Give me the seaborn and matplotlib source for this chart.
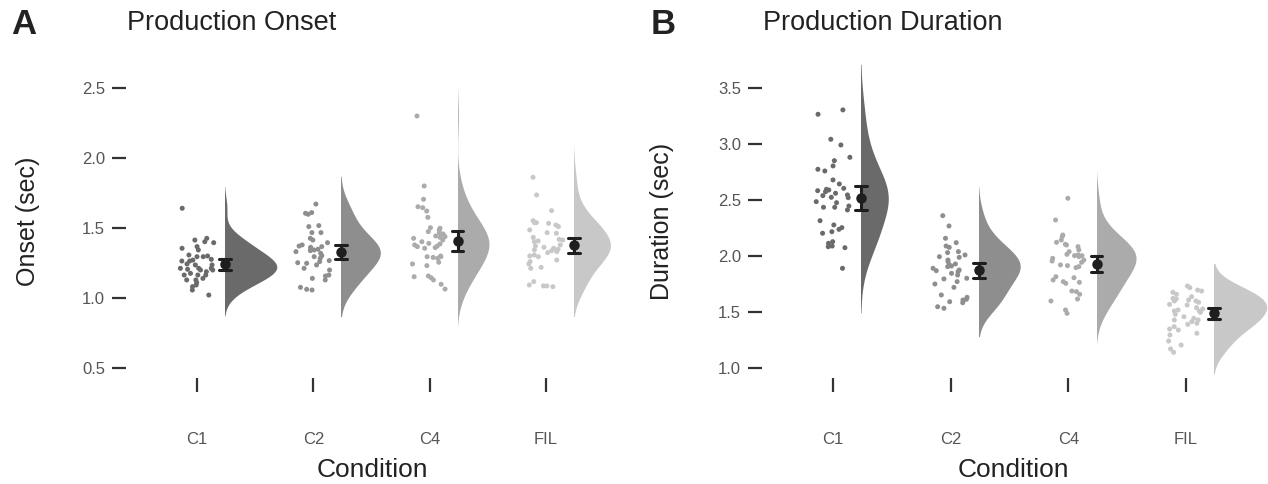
import numpy as np
import pandas as pd
import matplotlib
matplotlib.use('Agg')
import matplotlib.pyplot as plt
from matplotlib.patches import Rectangle
import seaborn as sns

# ── Data (in seconds) ─────────────────────────────────────────
conditions = ['C1', 'C2', 'C4', 'FIL']
shades = ['#6a6a6b', '#8e8e8e', '#ababab', '#c8c8c8']

onset_c1 = [1.641, 1.426, 1.414, 1.402, 1.395, 1.343, 1.367, 1.355, 1.307, 1.295,
            1.295, 1.300, 1.271, 1.264, 1.264, 1.276, 1.243, 1.236, 1.236, 1.212,
            1.200, 1.200, 1.205, 1.212, 1.212, 1.164, 1.164, 1.164, 1.140, 1.129,
            1.129, 1.110, 1.081, 1.093, 1.057, 1.021, 1.188, 1.176]
onset_c2 = [1.671, 1.605, 1.610, 1.598, 1.517, 1.510, 1.467, 1.467, 1.426, 1.395,
            1.379, 1.367, 1.362, 1.355, 1.348, 1.343, 1.338, 1.331, 1.371, 1.319,
            1.295, 1.283, 1.267, 1.260, 1.252, 1.248, 1.236, 1.212, 1.200, 1.164,
            1.157, 1.140, 1.129, 1.076, 1.062, 1.057, 1.302, 1.414]
onset_c4 = [2.300, 1.800, 1.705, 1.645, 1.652, 1.621, 1.576, 1.486, 1.498, 1.502,
            1.474, 1.467, 1.457, 1.443, 1.433, 1.438, 1.426, 1.414, 1.402, 1.390,
            1.386, 1.371, 1.367, 1.360, 1.379, 1.355, 1.300, 1.295, 1.290, 1.283,
            1.295, 1.255, 1.243, 1.231, 1.157, 1.152, 1.145, 1.129, 1.098, 1.064]
onset_fil = [1.862, 1.736, 1.624, 1.552, 1.538, 1.533, 1.538, 1.521, 1.510, 1.486,
             1.467, 1.462, 1.414, 1.407, 1.402, 1.419, 1.379, 1.371, 1.362, 1.355,
             1.348, 1.343, 1.338, 1.331, 1.324, 1.307, 1.300, 1.295, 1.271, 1.260,
             1.243, 1.219, 1.212, 1.117, 1.093, 1.086, 1.081, 1.086, 1.433]

dur_c1 = [3.265, 3.304, 3.042, 2.991, 2.881, 2.851, 2.804, 2.774, 2.759, 2.679,
          2.643, 2.604, 2.589, 2.583, 2.574, 2.545, 2.539, 2.524, 2.521, 2.485,
          2.476, 2.446, 2.435, 2.435, 2.411, 2.315, 2.277, 2.253, 2.238, 2.217,
          2.203, 2.128, 2.113, 2.089, 2.083, 2.074, 1.890, 2.595, 2.560]
dur_c2 = [2.360, 2.268, 2.158, 2.119, 2.089, 2.077, 2.039, 2.030, 2.009, 1.994,
          1.988, 1.964, 1.949, 1.929, 1.911, 1.905, 1.890, 1.869, 1.860, 1.845,
          1.830, 1.801, 1.771, 1.750, 1.795, 1.720, 1.652, 1.631, 1.613, 1.607,
          1.592, 1.583, 1.547, 1.533, 1.920, 1.875]
dur_c4 = [2.515, 2.321, 2.187, 2.173, 2.143, 2.122, 2.104, 2.098, 2.083, 2.054,
          2.039, 2.015, 2.009, 2.003, 2.003, 1.994, 1.964, 1.955, 1.943, 1.920,
          1.914, 1.905, 1.896, 1.815, 1.806, 1.786, 1.771, 1.765, 1.756, 1.687,
          1.682, 1.658, 1.616, 1.598, 1.518, 1.488, 1.979]
dur_fil = [1.732, 1.717, 1.696, 1.687, 1.676, 1.658, 1.637, 1.622, 1.616, 1.607,
           1.598, 1.598, 1.586, 1.568, 1.562, 1.539, 1.527, 1.518, 1.509, 1.509,
           1.497, 1.479, 1.458, 1.443, 1.429, 1.429, 1.414, 1.399, 1.390, 1.369,
           1.348, 1.339, 1.310, 1.295, 1.241, 1.205, 1.170, 1.140]

onset_ticks = [0.5, 1.0, 1.5, 2.0, 2.5]
duration_ticks = [1.0, 1.5, 2.0, 2.5, 3.0, 3.5]

# ── Style ─────────────────────────────────────────────────────
sns.set_theme(style='white')
plt.rcParams['font.family'] = ['Liberation Sans', 'DejaVu Sans']

CLOUD_SHIFT = 0.24   # violin + mean sit to the right of the points


def raincloud(ax, groups):
    rows = []
    for i, (cond, vals) in enumerate(zip(conditions, groups)):
        for v in vals:
            rows.append({'condition': cond, 'pos': i, 'value': v})
    df = pd.DataFrame(rows)
    df['cloud_x'] = df['pos'] + CLOUD_SHIFT

    # half violins: draw full ones, then clip off the left half
    n_before = len(ax.collections)
    sns.violinplot(data=df, x='cloud_x', y='value', native_scale=True,
                   inner=None, linewidth=0, width=0.9, bw_adjust=1.3,
                   color='gray', ax=ax)
    for coll, col in zip(ax.collections[n_before:], shades):
        verts = coll.get_paths()[0].vertices
        center = (verts[:, 0].min() + verts[:, 0].max()) / 2
        coll.set_facecolor(col)
        coll.set_edgecolor('none')
        coll.set_clip_path(Rectangle((center, -10), 5, 30, transform=ax.transData))

    # raw points
    np.random.seed(7)
    sns.stripplot(data=df, x='pos', y='value', hue='condition', hue_order=conditions,
                  palette=shades, native_scale=True, jitter=0.15, size=3.6,
                  linewidth=0, legend=False, ax=ax)

    # mean +/- 2 SE
    sns.pointplot(data=df, x='cloud_x', y='value', native_scale=True,
                  errorbar=('se', 2), capsize=0.1, color='#1e1e1e',
                  linestyle='none', marker='o', markersize=5.5,
                  err_kws={'linewidth': 2.2}, ax=ax)


fig = plt.figure(figsize=(12.68, 4.84), dpi=100)
W, H = 1268, 484

panels = [
    # letter, title, ylabel, groups, ticks, left px, right px, tick0 px, step px, ylim, letter x
    ('A', 'Production Onset', 'Onset (sec)', [onset_c1, onset_c2, onset_c4, onset_fil],
     onset_ticks, 126, 620, 197, 116.33, (0.4286, 2.664), 11),
    ('B', 'Production Duration', 'Duration (sec)', [dur_c1, dur_c2, dur_c4, dur_fil],
     duration_ticks, 762, 1266, 833, 117.67, (0.9107, 3.705), 651),
]

for letter, title, ylabel, groups, yticks, lpx, rpx, t0, step, ylim, letter_x in panels:
    ax = fig.add_axes([lpx / W, (H - 378) / H, (rpx - lpx) / W, (378 - 65) / H])
    raincloud(ax, groups)

    ax.set_xlim(-(t0 - lpx) / step, 3 + (rpx - (t0 + 3 * step)) / step)
    ax.set_ylim(*ylim)
    ax.set_xticks(range(len(conditions)))
    ax.set_xticklabels(conditions)
    ax.set_yticks(yticks)
    ax.set_yticklabels([f'{t:.1f}' for t in yticks])

    sns.despine(ax=ax, left=True, bottom=True)
    ax.tick_params(axis='both', direction='out', length=10, width=1.6,
                   color='#333333', labelcolor='#555555', labelsize=12)
    ax.tick_params(axis='x', pad=29)
    ax.tick_params(axis='y', pad=5)
    ax.tick_params(left=True, bottom=True)

    ax.set_ylabel(ylabel, fontsize=18, color='#222222')
    ax.yaxis.set_label_coords(-0.174, 0.5)
    ax.set_xlabel('Condition', fontsize=19, color='#222222')
    ax.xaxis.set_label_coords(0.498, -0.255)

    fig.text(letter_x / W, 1 - 24 / H, letter, fontsize=25, fontweight='bold',
             color='#222222', ha='left', va='center')
    fig.text((lpx + 1) / W, 1 - 23 / H, title, fontsize=19.5, color='#222222',
             ha='left', va='center')

fig.savefig('out.png', dpi=100)
